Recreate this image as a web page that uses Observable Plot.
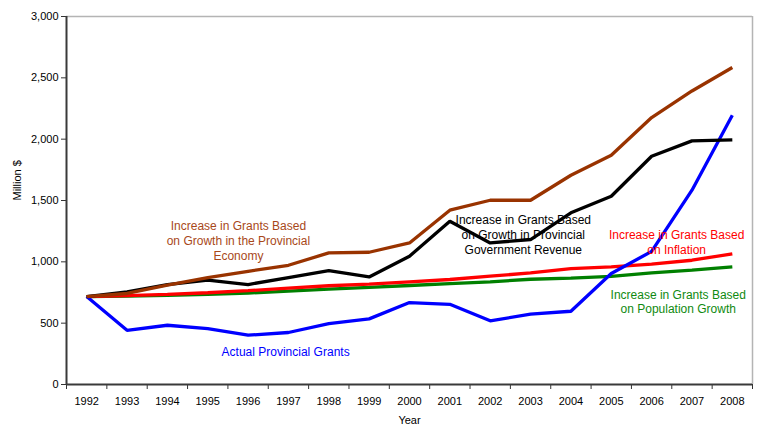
<!DOCTYPE html>
<html>
<head>
<meta charset="utf-8">
<script src="https://cdn.jsdelivr.net/npm/d3@7"></script>
<script src="https://cdn.jsdelivr.net/npm/@observablehq/plot@0.6"></script>
<style>
  html, body { margin: 0; padding: 0; background: #fff; }
  #chart svg { display: block; }
</style>
</head>
<body>
<div id="chart"></div>
<script>
const years = [1992,1993,1994,1995,1996,1997,1998,1999,2000,2001,2002,2003,2004,2005,2006,2007,2008];
const actualGrants   = [717,442,483,456,402,424,497,535,668,654,519,573,597,905,1085,1584,2195];
const revenueGrowth  = [717,755,815,850,815,872,929,877,1046,1331,1154,1182,1400,1535,1861,1986,1994];
const economyGrowth  = [717,742,810,872,923,972,1073,1078,1154,1421,1502,1502,1706,1869,2176,2393,2584];
const inflationGrowth= [717,725,735,748,765,785,805,818,837,856,883,910,945,959,981,1013,1065];
const populationGrowth=[717,720,727,735,745,762,778,791,807,823,837,858,868,882,910,932,959];
const yTicks = [0,500,1000,1500,2000,2500,3000];

const seriesList = [
  {name: "population", values: populationGrowth, color: "#008000"},
  {name: "inflation", values: inflationGrowth, color: "#ff0000"},
  {name: "actual", values: actualGrants, color: "#0000ff"},
  {name: "revenue", values: revenueGrowth, color: "#000000"},
  {name: "economy", values: economyGrowth, color: "#993300"}
];
const rows = seriesList.flatMap(s => years.map((yr, i) => ({series: s.name, year: yr, value: s.values[i]})));
const colorOf = Object.fromEntries(seriesList.map(s => [s.name, s.color]));

const annotations = [
  {text: "Increase in Grants Based\non Growth in the Provincial\nEconomy", year: 1995.76, value: 1176, color: "#a8481a"},
  {text: "Increase in Grants Based\non Growth in Provincial\nGovernment Revenue", year: 2002.82, value: 1225, color: "#000000"},
  {text: "Increase in Grants Based\non Inflation", year: 2006.62, value: 1164, color: "#ff0000"},
  {text: "Increase in Grants Based\non Population Growth", year: 2006.66, value: 679, color: "#108a10"},
  {text: "Actual Provincial Grants", year: 1996.93, value: 271, color: "#0000ff"}
];

const boundaries = [years[0] - 0.5, ...years.map(y => y + 0.5)];

const chart = Plot.plot({
  width: 757,
  height: 425,
  marginLeft: 66,
  marginRight: 5,
  marginTop: 16,
  marginBottom: 41,
  style: {fontFamily: "Arial, 'Liberation Sans', sans-serif", fontSize: "11px", color: "#000", background: "#fff"},
  x: {domain: [years[0] - 0.5, years[years.length - 1] + 0.5]},
  y: {domain: [0, 3000]},
  marks: [
    Plot.ruleY([3000], {stroke: "#b4b4b4", strokeWidth: 1.5}),
    Plot.ruleX([boundaries[boundaries.length - 1]], {stroke: "#b4b4b4", strokeWidth: 1.5}),
    Plot.axisY(yTicks, {tickSize: 5, tickPadding: 3, tickFormat: d3.format(","), label: null, stroke: "#333", fill: "#000", fontSize: 11}),
    Plot.axisX(boundaries, {tickSize: 5, tickFormat: () => "", label: null, stroke: "#333"}),
    Plot.axisX(years, {tickSize: 0, tickPadding: 13, tickFormat: d => String(d), label: null, fill: "#000", fontSize: 11}),
    Plot.lineY(rows, {x: "year", y: "value", z: "series", stroke: d => colorOf[d.series], strokeWidth: 3.3, strokeLinejoin: "miter", strokeLinecap: "butt"}),
    Plot.ruleX([boundaries[0]], {stroke: "#3a3a3a", strokeWidth: 2}),
    Plot.ruleY([0], {stroke: "#3a3a3a", strokeWidth: 2}),
    Plot.text(annotations, {x: "year", y: "value", text: "text", fill: d => d.color, fontSize: 12, lineHeight: 1.22, textAnchor: "middle"}),
    Plot.text(["Million $"], {frameAnchor: "left", dx: -49, rotate: -90, fontSize: 11, fill: "#000"}),
    Plot.text(["Year"], {frameAnchor: "bottom", dy: 39, fontSize: 11, fill: "#000"})
  ]
});
document.getElementById("chart").appendChild(chart);
</script>
</body>
</html>
